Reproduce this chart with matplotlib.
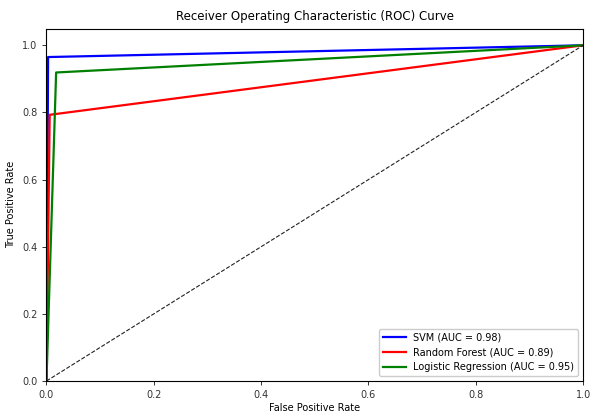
import matplotlib
matplotlib.use('Agg')
import matplotlib.pyplot as plt

# ROC points
models = ['SVM', 'Random Forest', 'Logistic Regression']
aucs = [0.98, 0.89, 0.95]
colors = ['blue', 'red', 'green']
fprs = [[0.0, 0.003, 1.0],
        [0.0, 0.006, 1.0],
        [0.0, 0.018, 1.0]]
tprs = [[0.0, 0.965, 1.0],
        [0.0, 0.793, 1.0],
        [0.0, 0.919, 1.0]]

plt.rcParams['font.family'] = ['DejaVu Sans']
plt.rcParams['font.size'] = 7

fig = plt.figure(figsize=(5.92, 4.12), dpi=100)
ax = fig.add_axes([0.0785, 0.0752, 0.9065, 0.8556])

for name, auc, c, fpr, tpr in zip(models, aucs, colors, fprs, tprs):
    ax.plot(fpr, tpr, color=c, lw=1.6, label=f'{name} (AUC = {auc:.2f})')

ax.plot([0, 1], [0, 1], color='#222222', lw=0.8, linestyle='--')

ax.set_xlim(0.0, 1.0)
ax.set_ylim(0.0, 1.05)
ax.set_xlabel('False Positive Rate', fontsize=7, labelpad=2)
ax.set_ylabel('True Positive Rate', fontsize=7, labelpad=4)
ax.set_title('Receiver Operating Characteristic (ROC) Curve', fontsize=8.5, pad=6)
ax.tick_params(labelsize=7, length=3, width=0.7, colors='#333333')
for s in ax.spines.values():
    s.set_linewidth(0.8)
ax.legend(loc='lower right', fontsize=7, framealpha=1, handlelength=2.3)

plt.savefig('out.png', dpi=100)
plt.close()
